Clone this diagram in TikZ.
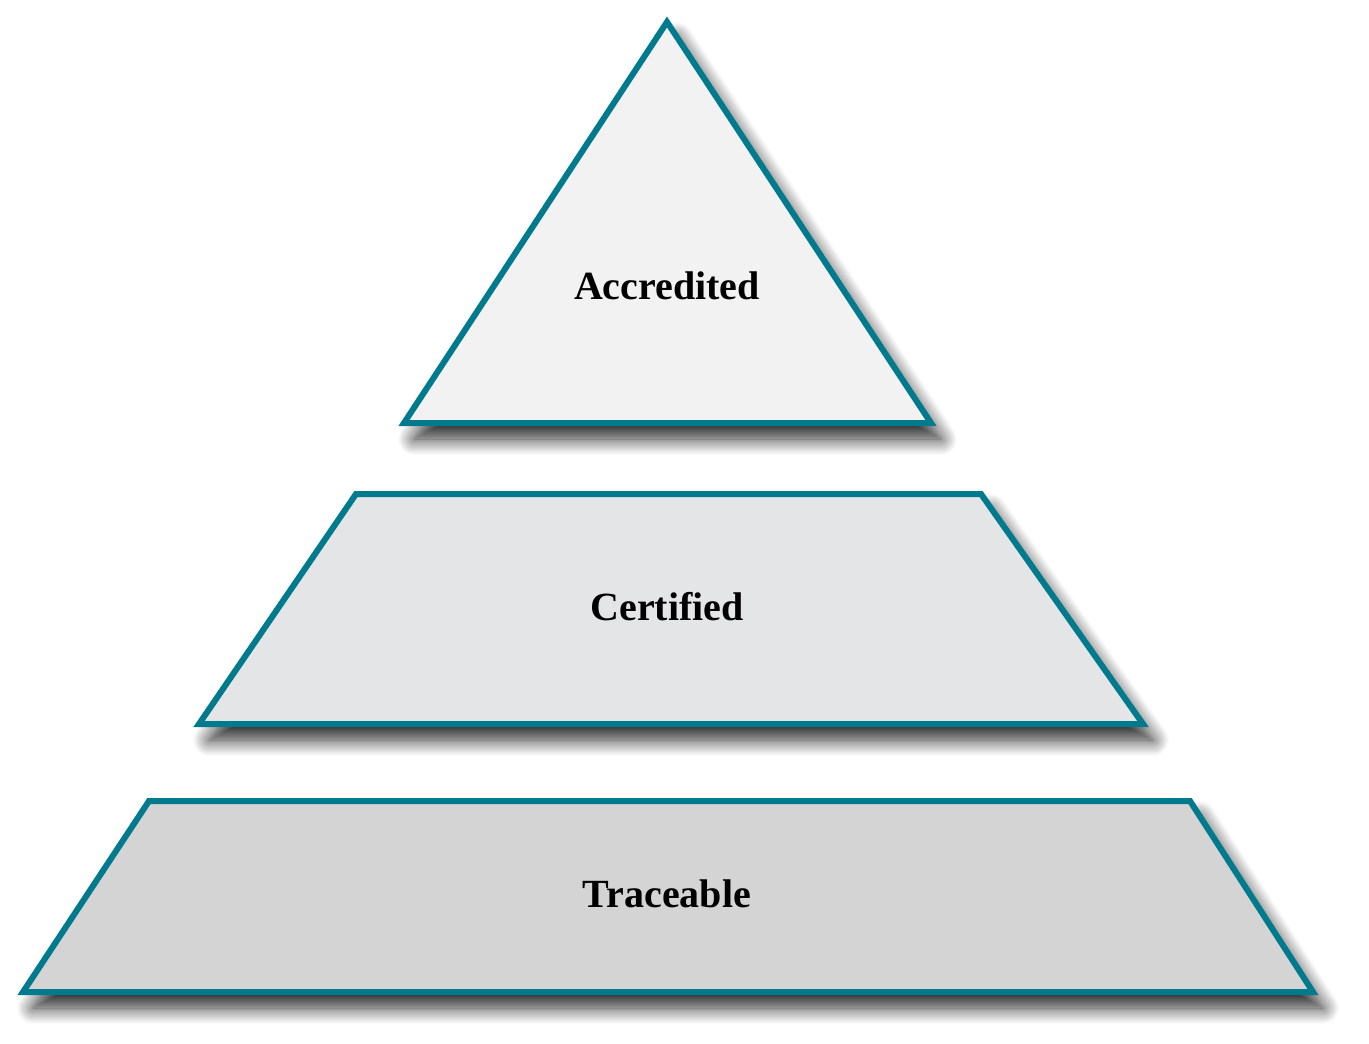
\documentclass[tikz,border=0pt]{standalone}
\usepackage{fontspec}
\setmainfont{Liberation Serif}
\usepackage{tikz}
\usetikzlibrary{shadows.blur}
\usepackage{xcolor}
\definecolor{rim}{HTML}{007A8C}
\definecolor{topfill}{HTML}{F2F2F2}
\definecolor{midfill}{HTML}{E4E5E7}
\definecolor{basefill}{HTML}{D4D4D4}
\tikzset{
  tier/.style={draw=rim,line width=3pt,line join=miter,
    blur shadow={shadow xshift=5pt,shadow yshift=-8pt,shadow blur radius=8pt,shadow blur steps=14,shadow opacity=85}},
  tierlabel/.style={font=\fontsize{20}{23}\selectfont\bfseries,text=black,inner sep=0pt},
}

\begin{document}
\begin{tikzpicture}[x=0.5pt,y=-0.5pt]
\useasboundingbox (0,0) rectangle (1369,1043);

% top level
\draw[tier,fill=topfill] (667,22) -- (931,423) -- (404,423) -- cycle;
\node[tierlabel] (acc) at (667,286) {Accredited};

% middle level
\draw[tier,fill=midfill] (356,494) -- (981,494) -- (1143,724) -- (199,724) -- cycle;
\node[tierlabel] (cert) at (667,607) {Certified};

% base level
\draw[tier,fill=basefill] (149,801) -- (1190,801) -- (1313,992) -- (23,992) -- cycle;
\node[tierlabel] (trace) at (667,894) {Traceable};

\end{tikzpicture}
\end{document}
